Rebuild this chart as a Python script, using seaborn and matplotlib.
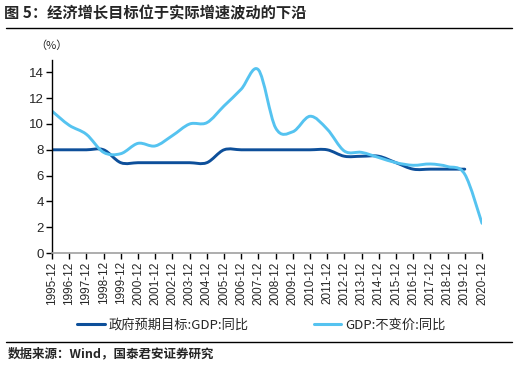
import numpy as np
import pandas as pd
import matplotlib
matplotlib.use("Agg")
import matplotlib.pyplot as plt
from matplotlib.path import Path
from matplotlib.patches import PathPatch
from matplotlib.lines import Line2D
import seaborn as sns

years = list(range(1995, 2021))
tick_labels = [f"{y}-12" for y in years]
target = [8, 8, 8, 8, 7, 7, 7, 7, 7, 7, 8, 8, 8, 8, 8, 8, 8, 7.5, 7.5, 7.5, 7, 6.5, 6.5, 6.5, 6.5]
gdp = [11.0, 9.9, 9.2, 7.8, 7.7, 8.5, 8.3, 9.1, 10.0, 10.1, 11.4, 12.7, 14.2, 9.7, 9.4, 10.6,
       9.6, 7.9, 7.8, 7.4, 7.0, 6.8, 6.9, 6.7, 6.1, 2.3]

name_target = "政府预期目标:GDP:同比"
name_gdp = "GDP:不变价:同比"
c_target = "#0d4f9a"
c_gdp = "#55c3f0"

sns.set_style("white")
cjk = ["Noto Sans CJK SC", "DejaVu Sans"]
plt.rcParams["font.family"] = cjk

df_t = pd.DataFrame({"year": years[:len(target)], "v": target})
df_g = pd.DataFrame({"year": years, "v": gdp})

fig = plt.figure(figsize=(5.18, 3.65), dpi=100)
ax = fig.add_axes([52 / 518, 1 - 253 / 365, 430 / 518, 193.5 / 365])

sns.lineplot(data=df_t, x="year", y="v", ax=ax, color=c_target, legend=False)
sns.lineplot(data=df_g, x="year", y="v", ax=ax, color=c_gdp, legend=False)


def smooth_path(x, y):
    # Catmull-Rom segments turned into cubic Bezier curves (like Excel's smoothed line)
    p = np.column_stack([x, y]).astype(float)
    ext = np.vstack([p[0], p, p[-1]])
    verts = [p[0]]
    codes = [Path.MOVETO]
    for i in range(len(p) - 1):
        p0, p1, p2, p3 = ext[i], ext[i + 1], ext[i + 2], ext[i + 3]
        verts += [p1 + (p2 - p0) / 6, p2 - (p3 - p1) / 6, p2]
        codes += [Path.CURVE4] * 3
    return Path(verts, codes)


for line in list(ax.lines):
    xy = line.get_xydata()
    col = line.get_color()
    line.remove()
    ax.add_patch(PathPatch(smooth_path(xy[:, 0], xy[:, 1]), facecolor="none",
                           edgecolor=col, lw=2.1, capstyle="round", joinstyle="round"))

ax.set_xlim(1995, 2020)
ax.set_ylim(0, 15)
ax.set_yticks(range(0, 16, 2)[:8])
ax.set_xticks(years)
ax.set_xticklabels(tick_labels, rotation=90, family="Liberation Sans", fontsize=8.5)
for t in ax.get_yticklabels():
    t.set_family("Liberation Sans")
    t.set_fontsize(9.5)
ax.set_xlabel("")
ax.set_ylabel("")
ax.tick_params(axis="both", direction="out", length=4, width=1, color="black", pad=2, bottom=True, left=True)
for s in ["top", "right"]:
    ax.spines[s].set_visible(False)
ax.spines["left"].set_color("black")
ax.spines["left"].set_linewidth(1)
ax.spines["bottom"].set_color("#a0a0a0")
ax.spines["bottom"].set_linewidth(1.2)

fig.text(35 / 518, 1 - 46 / 365, "（%）", fontsize=8, va="center", ha="left")

fig.text(4 / 518, 1 - 13 / 365, "图 5：经济增长目标位于实际增速波动的下沿", fontsize=11,
         fontweight="bold", va="center", ha="left")
fig.add_artist(Line2D([6 / 518, 512 / 518], [1 - 28 / 365, 1 - 28 / 365], color="black", lw=1))
fig.add_artist(Line2D([6 / 518, 512 / 518], [1 - 342 / 365, 1 - 342 / 365], color="black", lw=1))
fig.text(8 / 518, 1 - 354 / 365, "数据来源：Wind，国泰君安证券研究", fontsize=9,
         fontweight="bold", va="center", ha="left")

handles = [Line2D([], [], color=c_target, lw=2.2), Line2D([], [], color=c_gdp, lw=2.2)]
fig.legend(handles, [name_target, name_gdp], ncol=2, frameon=False, loc="center left",
           bbox_to_anchor=(72 / 518, 1 - 325 / 365), fontsize=9.5, handlelength=2.1,
           handletextpad=0.3, columnspacing=4.9, borderaxespad=0)

fig.savefig("out.png", dpi=100)
